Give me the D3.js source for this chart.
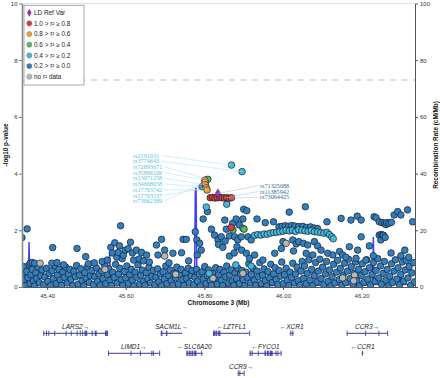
<!DOCTYPE html>
<html>
<head>
<meta charset="utf-8">
<script src="https://cdn.jsdelivr.net/npm/d3@7"></script>
<style>
body { margin: 0; background: #fff; }
svg { display: block; font-family: "Liberation Sans", Arial, sans-serif; }
</style>
</head>
<body>
<svg></svg>
<script>
// LD legend
const ldLabels = ["LD Ref Var", "1.0 > r\u00b2 \u2265 0.8", "0.8 > r\u00b2 \u2265 0.6", "0.6 > r\u00b2 \u2265 0.4",
    "0.4 > r\u00b2 \u2265 0.2", "0.2 > r\u00b2 \u2265 0.0", "no r\u00b2 data"];
const ldColors = ["#9632b8", "#d43f3a", "#eea236", "#5cb85c", "#46b8da", "#357ebd", "#b8b8b8"];

const xTicks = [45.4, 45.6, 45.8, 46.0, 46.2];
const yTicks = [0, 2, 4, 6, 8, 10];
const recTicks = [0, 20, 40, 60, 80, 100];
const sigThreshold = 7.301;

// variants: [position Mb, -log10 p]
const refVariant = [[45.8345, 3.30]];
const redPts = [[45.815, 3.15], [45.821, 3.16], [45.827, 3.14], [45.833, 3.15], [45.839, 3.16], [45.845, 3.15],
    [45.851, 3.14], [45.857, 3.15], [45.863, 3.13], [45.869, 3.15], [45.868, 2.10]];
const orangePts = [[45.801, 3.77], [45.802, 3.70], [45.803, 3.60], [45.805, 3.50], [45.807, 3.42]];
const greenPts = [[45.809, 3.80], [45.873, 2.01], [45.901, 2.04]];
const cyanPts = [[45.869, 4.30], [45.896, 4.07], [45.857, 2.92], [45.805, 2.82], [45.898, 2.07],
    [45.880, 0.78], [45.919, 0.74], [45.812, 0.48],
    [45.928, 1.82], [45.936, 1.85], [45.944, 1.83], [45.952, 1.87], [45.960, 1.86], [45.968, 1.90], [45.976, 1.92],
    [45.984, 1.93], [45.992, 1.95], [46.000, 1.97], [46.008, 2.00], [46.016, 1.98], [46.024, 2.00], [46.032, 1.96],
    [46.040, 2.02], [46.048, 2.00], [46.056, 1.98], [46.064, 1.97], [46.072, 1.99], [46.080, 1.95], [46.088, 1.94],
    [46.096, 1.92], [46.104, 1.90], [46.112, 1.93], [46.118, 1.85], [46.124, 1.77], [46.128, 1.70]];
const greyPts = [[45.382, 0.84], [45.547, 0.62], [45.699, 1.09], [45.727, 0.45], [45.822, 0.31], [45.898, 0.48],
    [46.008, 1.54], [46.152, 0.32], [46.182, 0.42], [46.180, 0.22]];
const bluePts = [
    // low band
    [45.337, 0.10], [45.338, 0.48], [45.340, 0.72], [45.343, 0.28], [45.345, 0.05], [45.348, 0.55], [45.351, 0.33],
    [45.354, 0.78], [45.356, 0.12], [45.359, 0.44], [45.362, 0.62], [45.365, 0.22], [45.368, 0.04], [45.371, 0.50],
    [45.374, 0.30], [45.377, 0.70], [45.380, 0.15], [45.384, 0.40], [45.387, 0.60], [45.391, 0.08], [45.394, 0.35],
    [45.398, 0.66], [45.402, 0.20], [45.405, 0.48], [45.409, 0.05], [45.412, 0.58], [45.416, 0.30], [45.419, 0.74],
    [45.423, 0.12], [45.426, 0.42], [45.430, 0.62], [45.433, 0.25], [45.437, 0.06], [45.440, 0.52], [45.444, 0.34],
    [45.447, 0.70], [45.451, 0.14], [45.454, 0.45], [45.458, 0.62], [45.461, 0.27], [45.465, 0.05], [45.468, 0.55],
    [45.472, 0.36], [45.475, 0.76], [45.479, 0.10], [45.482, 0.42], [45.486, 0.64], [45.489, 0.22], [45.493, 0.04],
    [45.496, 0.50], [45.500, 0.30], [45.503, 0.72], [45.507, 0.16], [45.510, 0.40], [45.514, 0.58], [45.518, 0.08],
    [45.521, 0.36], [45.525, 0.68], [45.528, 0.20], [45.532, 0.46], [45.535, 0.06], [45.539, 0.56], [45.542, 0.30],
    [45.546, 0.78], [45.549, 0.12], [45.553, 0.44], [45.557, 0.64], [45.560, 0.24], [45.564, 0.05], [45.567, 0.52],
    [45.571, 0.34], [45.574, 0.80], [45.578, 0.14], [45.582, 0.46], [45.585, 0.66], [45.589, 0.26], [45.592, 0.06],
    [45.596, 0.54], [45.600, 0.32], [45.603, 0.74], [45.607, 0.12], [45.610, 0.44], [45.614, 0.62], [45.617, 0.24],
    [45.621, 0.04], [45.624, 0.52], [45.628, 0.34], [45.631, 0.78], [45.635, 0.10], [45.638, 0.42], [45.642, 0.60],
    [45.645, 0.20], [45.649, 0.06], [45.652, 0.50], [45.656, 0.30], [45.659, 0.70], [45.663, 0.14], [45.667, 0.38],
    [45.670, 0.58], [45.674, 0.08], [45.677, 0.34], [45.681, 0.64], [45.684, 0.18], [45.688, 0.46], [45.691, 0.04],
    [45.695, 0.54], [45.698, 0.28], [45.702, 0.74], [45.705, 0.12], [45.709, 0.40], [45.713, 0.60], [45.716, 0.22],
    [45.720, 0.06], [45.723, 0.48], [45.727, 0.32], [45.730, 0.70], [45.734, 0.10], [45.737, 0.44], [45.741, 0.62],
    [45.745, 0.26], [45.748, 0.05], [45.752, 0.50], [45.755, 0.30], [45.759, 0.66], [45.762, 0.14], [45.766, 0.40],
    [45.769, 0.58], [45.773, 0.08], [45.776, 0.34], [45.780, 0.62], [45.783, 0.20], [45.787, 0.46], [45.790, 0.04],
    [45.794, 0.54], [45.797, 0.28], [45.801, 0.72], [45.804, 0.12], [45.808, 0.40], [45.811, 0.60], [45.815, 0.22],
    [45.818, 0.06], [45.822, 0.48], [45.826, 0.32], [45.829, 0.68], [45.833, 0.10], [45.836, 0.44], [45.840, 0.62],
    [45.843, 0.24], [45.847, 0.05], [45.850, 0.52], [45.854, 0.36], [45.857, 0.74], [45.861, 0.14], [45.864, 0.42],
    [45.868, 0.60], [45.871, 0.20], [45.875, 0.06], [45.878, 0.50], [45.882, 0.30], [45.885, 0.66], [45.889, 0.12],
    [45.892, 0.46], [45.896, 0.58], [45.899, 0.26], [45.903, 0.05], [45.906, 0.52], [45.910, 0.34], [45.913, 0.82],
    [45.917, 0.14], [45.920, 0.44], [45.924, 0.66], [45.927, 0.24], [45.931, 0.06], [45.934, 0.56], [45.938, 0.36],
    [45.941, 0.86], [45.945, 0.12], [45.948, 0.42], [45.952, 0.64], [45.955, 0.22], [45.959, 0.04], [45.962, 0.54],
    [45.966, 0.32], [45.969, 0.80], [45.973, 0.16], [45.976, 0.46], [45.980, 0.68], [45.983, 0.26], [45.987, 0.08],
    [45.990, 0.58], [45.994, 0.38], [45.997, 0.88], [46.001, 0.12], [46.004, 0.44], [46.008, 0.66], [46.011, 0.24],
    [46.015, 0.05], [46.018, 0.52], [46.022, 0.34], [46.025, 0.84], [46.029, 0.14], [46.032, 0.46], [46.036, 0.70],
    [46.039, 0.22], [46.043, 0.06], [46.046, 0.56], [46.049, 0.90], [46.052, 0.30], [46.055, 0.74], [46.059, 0.12],
    [46.062, 0.48], [46.066, 0.96], [46.069, 0.24], [46.073, 0.62], [46.076, 0.05], [46.080, 0.40], [46.083, 0.86],
    [46.087, 0.18], [46.090, 0.56], [46.094, 0.98], [46.097, 0.30], [46.101, 0.70], [46.104, 0.08], [46.108, 0.46],
    [46.111, 0.90], [46.115, 0.20], [46.118, 0.60], [46.122, 0.04], [46.125, 0.36], [46.129, 0.80], [46.132, 0.14],
    [46.136, 0.52], [46.139, 0.94], [46.143, 0.26], [46.146, 0.66], [46.150, 0.06], [46.153, 0.42], [46.157, 0.84],
    [46.160, 0.16], [46.164, 0.56], [46.167, 0.98], [46.171, 0.30], [46.174, 0.72], [46.178, 0.10], [46.181, 0.48],
    [46.185, 0.88], [46.188, 0.22], [46.192, 0.62], [46.195, 0.04], [46.199, 0.40], [46.202, 0.82], [46.206, 0.16],
    [46.209, 0.54], [46.213, 0.96], [46.216, 0.28], [46.220, 0.68], [46.223, 0.06], [46.227, 0.44], [46.230, 0.86],
    [46.234, 0.20], [46.237, 0.58], [46.241, 1.00], [46.244, 0.32], [46.248, 0.74], [46.251, 0.10], [46.255, 0.48],
    [46.258, 0.90], [46.262, 0.24], [46.265, 0.62], [46.269, 0.04], [46.272, 0.38], [46.276, 0.82], [46.279, 0.16],
    [46.283, 0.56], [46.286, 0.96], [46.290, 0.28], [46.293, 0.68], [46.297, 0.08], [46.300, 0.44], [46.304, 0.88],
    [46.307, 0.20], [46.311, 0.60], [46.314, 0.94], [46.318, 0.32], [46.321, 0.72], [46.325, 0.06], [46.328, 0.50],
    [46.332, 0.86], [46.335, 0.18],
    // scattered, left and middle
    [45.336, 1.74], [45.349, 2.05], [45.357, 0.84], [45.362, 0.86], [45.368, 0.84], [45.414, 1.39], [45.412, 0.84],
    [45.425, 0.86], [45.442, 0.78], [45.476, 1.36], [45.498, 1.07], [45.505, 0.82], [45.520, 0.85], [45.540, 0.90],
    [45.553, 0.95], [45.562, 1.40], [45.566, 1.20], [45.572, 1.56], [45.577, 1.05], [45.581, 1.22], [45.584, 1.45],
    [45.587, 2.16], [45.591, 1.00], [45.594, 1.12], [45.599, 1.30], [45.606, 1.35], [45.612, 1.58], [45.617, 1.20],
    [45.620, 0.95], [45.627, 1.30], [45.634, 0.99], [45.640, 1.22], [45.645, 0.92], [45.653, 1.13], [45.660, 0.88],
    [45.678, 1.48], [45.682, 1.13], [45.691, 1.68], [45.699, 1.30], [45.710, 0.85], [45.720, 1.19], [45.742, 1.21],
    [45.746, 1.68], [45.754, 1.68], [45.760, 0.92], [45.777, 1.95], [45.781, 1.66], [45.782, 1.13], [45.788, 1.54],
    [45.792, 1.30], [45.797, 2.40], [45.794, 3.54], [45.808, 2.66], [45.818, 2.04], [45.826, 1.83], [45.835, 1.66],
    [45.836, 1.50], [45.843, 1.77], [45.847, 1.40], [45.852, 2.36], [45.853, 1.62], [45.856, 2.04], [45.864, 1.80],
    [45.864, 1.09], [45.872, 2.25], [45.877, 1.77], [45.876, 1.20], [45.881, 2.40], [45.883, 1.42], [45.885, 1.66],
    [45.889, 2.19], [45.894, 1.77], [45.895, 1.30], [45.898, 2.40], [45.900, 2.74], [45.907, 1.19], [45.908, 2.69],
    [45.911, 1.77], [45.915, 1.01], [45.919, 1.66], [45.928, 1.13], [45.934, 2.40], [45.949, 0.95], [45.955, 2.27],
    [45.976, 2.30], [45.979, 1.19], [45.996, 1.36],
    // LD block at ~2.1
    [45.990, 2.12], [45.998, 2.14], [46.006, 2.16], [46.014, 2.13], [46.022, 2.17], [46.030, 2.15], [46.040, 2.13],
    [46.050, 2.14], [46.060, 2.10], [46.070, 2.12], [46.080, 2.08], [46.088, 2.06],
    // scattered, right
    [46.000, 1.60], [46.016, 2.64], [46.025, 1.66], [46.027, 1.27], [46.034, 1.52], [46.040, 1.60], [46.052, 1.54],
    [46.057, 2.83], [46.059, 1.19], [46.063, 1.48], [46.076, 1.13], [46.080, 1.60], [46.088, 1.45], [46.097, 1.30],
    [46.112, 2.30], [46.114, 1.19], [46.127, 1.13], [46.144, 1.25], [46.148, 2.42], [46.152, 1.13], [46.160, 1.05],
    [46.169, 1.42], [46.173, 2.36], [46.186, 1.01], [46.189, 2.50], [46.190, 1.30], [46.199, 2.36], [46.199, 1.77],
    [46.211, 0.95], [46.220, 1.45], [46.230, 1.10], [46.232, 2.48], [46.237, 2.44], [46.245, 2.30], [46.245, 1.83],
    [46.249, 1.66], [46.250, 1.85], [46.252, 2.27], [46.254, 1.83], [46.256, 1.82], [46.258, 2.25], [46.260, 1.75],
    [46.262, 2.20], [46.264, 2.27], [46.270, 2.25], [46.275, 1.20], [46.276, 2.28], [46.283, 2.54], [46.292, 2.66],
    [46.300, 2.54], [46.300, 1.10], [46.310, 1.30], [46.317, 2.72], [46.320, 1.05], [46.330, 2.30]
];

// recombination rate: [position Mb, cM/Mb]
const recomb = [[45.336, 1.2], [45.345, 0.8], [45.352, 1.0], [45.354, 15.9], [45.356, 1.0], [45.370, 0.6],
    [45.390, 1.4], [45.420, 0.5], [45.450, 0.9], [45.480, 0.4], [45.510, 1.2], [45.540, 0.6], [45.557, 1.0],
    [45.559, 12.5], [45.561, 0.8], [45.600, 0.5], [45.640, 1.1], [45.680, 0.4], [45.720, 0.7], [45.760, 0.5],
    [45.775, 1.0], [45.777, 34.0], [45.779, 35.0], [45.781, 1.2], [45.810, 0.4], [45.850, 0.3], [45.900, 0.6],
    [45.950, 0.3], [46.000, 0.8], [46.050, 0.4], [46.100, 0.6], [46.150, 0.9], [46.200, 0.5], [46.228, 1.0],
    [46.230, 17.6], [46.232, 1.0], [46.260, 0.8], [46.297, 1.0], [46.299, 5.0], [46.301, 1.0], [46.336, 0.8]];

// labelled variants
const leftLabels = ["rs2191031", "rs3774643", "rs72893671", "rs35896106", "rs13071258", "rs34668658",
    "rs17763742", "rs17763537", "rs73062389"];
const leftTargets = [[45.869, 4.30], [45.896, 4.07], [45.809, 3.80], [45.801, 3.77], [45.803, 3.60],
    [45.794, 3.54], [45.807, 3.42], [45.805, 3.50], [45.802, 3.70]];
const rightLabels = ["rs71325088", "rs11385942", "rs73064425"];
const rightTargets = [[45.8345, 3.30], [45.851, 3.14], [45.863, 3.13]];

// genes
const geneNames = ["LARS2", "SACM1L", "LZTFL1", "XCR1", "CCR3", "LIMD1", "SLC6A20", "FYCO1", "CCR1", "CCR9"];
const geneStrand = ["+", "+", "-", "-", "+", "+", "-", "-", "-", "+"];
const geneStart = [45.390, 45.689, 45.822, 46.017, 46.162, 45.555, 45.754, 45.915, 46.200, 45.885];
const geneEnd = [45.555, 45.744, 45.915, 46.027, 46.266, 45.686, 45.796, 45.996, 46.205, 45.902];
const geneRow = [0, 0, 0, 0, 0, 1, 1, 1, 1, 2];
const geneExons = [
    [[45.390, 45.391], [45.397, 45.398], [45.403, 45.404], [45.418, 45.419], [45.447, 45.448], [45.460, 45.461],
     [45.475, 45.476], [45.483, 45.485], [45.489, 45.491], [45.495, 45.502], [45.513, 45.516], [45.521, 45.526],
     [45.547, 45.555]],
    [[45.689, 45.690], [45.691, 45.692], [45.702, 45.706]],
    [[45.822, 45.827], [45.828, 45.833], [45.835, 45.841], [45.914, 45.915]],
    [[46.019, 46.020], [46.024, 46.026]],
    [[46.162, 46.163], [46.209, 46.210], [46.243, 46.244], [46.265, 46.266]],
    [[45.555, 45.556], [45.612, 45.613], [45.636, 45.637], [45.665, 45.667], [45.669, 45.671], [45.685, 45.686]],
    [[45.754, 45.758], [45.760, 45.765], [45.767, 45.772], [45.774, 45.780], [45.792, 45.793]],
    [[45.915, 45.918], [45.920, 45.923], [45.936, 45.937], [45.953, 45.957], [45.959, 45.964], [45.966, 45.974],
     [45.981, 45.983], [45.986, 45.987], [45.994, 45.996]],
    [[46.201, 46.2035]],
    [[45.885, 45.887], [45.889, 45.890], [45.900, 45.902]]
];

const svg = d3.select("svg").attr("width", 440).attr("height", 378);
const plotL = 22, plotR = 415, plotT = 3.5, plotB = 287;

const x = d3.scaleLinear().domain([45.336, 46.336]).range([plotL, plotR]);
const y = d3.scaleLinear().domain([0, 10]).range([plotB, plotT]);
const yRec = d3.scaleLinear().domain([0, 100]).range([plotB, plotT]);

svg.append("defs").append("clipPath").attr("id", "plotclip")
    .append("rect").attr("x", plotL).attr("y", plotT).attr("width", plotR - plotL).attr("height", plotB - plotT);

// top border and significance line
svg.append("line").attr("x1", plotL).attr("x2", plotR).attr("y1", plotT).attr("y2", plotT)
    .attr("stroke", "#e2e2e2").attr("stroke-width", 1);
svg.append("line").attr("x1", plotL).attr("x2", plotR)
    .attr("y1", y(sigThreshold)).attr("y2", y(sigThreshold))
    .attr("stroke", "#d3d3d3").attr("stroke-width", 1.5).attr("stroke-dasharray", "6,5.5");

const plot = svg.append("g").attr("clip-path", "url(#plotclip)");

// recombination line
plot.append("path")
    .datum(recomb)
    .attr("d", d3.line().x(d => x(d[0])).y(d => yRec(d[1])))
    .attr("fill", "none")
    .attr("stroke", "#0000ff")
    .attr("stroke-opacity", 0.75)
    .attr("stroke-width", 1.5);

function drawPoints(pts, color) {
    plot.append("g").selectAll("circle")
        .data(pts)
        .join("circle")
        .attr("cx", d => x(d[0]))
        .attr("cy", d => y(d[1]))
        .attr("r", 3.3)
        .attr("fill", color)
        .attr("stroke", "#14202e")
        .attr("stroke-width", 0.7);
}
drawPoints(bluePts, ldColors[5]);
drawPoints(greyPts, ldColors[6]);
drawPoints(cyanPts, ldColors[4]);
drawPoints(greenPts, ldColors[3]);
drawPoints(orangePts, ldColors[2]);
drawPoints(redPts, ldColors[1]);

plot.selectAll(".ref")
    .data(refVariant)
    .join("path")
    .attr("d", d3.symbol(d3.symbolDiamond, 24))
    .attr("transform", d => `translate(${x(d[0])},${y(d[1])})`)
    .attr("fill", ldColors[0])
    .attr("stroke", "#4a1a5c")
    .attr("stroke-width", 0.5);

// variant labels
const lab = svg.append("g").attr("font-family", "'Liberation Serif', 'Times New Roman', serif").attr("font-size", 6.2);
leftLabels.forEach((name, i) => {
    const ly = 155.5 + i * 5.7;
    const t = lab.append("text").attr("x", 133).attr("y", ly).attr("dy", "0.35em")
        .attr("fill", "#5ec2e4").text(name);
    const w = t.node().getComputedTextLength();
    lab.append("line")
        .attr("x1", 133 + w + 2).attr("y1", ly)
        .attr("x2", x(leftTargets[i][0])).attr("y2", y(leftTargets[i][1]))
        .attr("stroke", "#aadff0").attr("stroke-width", 0.5);
});
rightLabels.forEach((name, i) => {
    const ly = 185.7 + i * 5.8;
    lab.append("text").attr("x", 260).attr("y", ly).attr("dy", "0.35em")
        .attr("fill", "#2d6ca8").text(name);
    lab.append("line")
        .attr("x1", 258).attr("y1", ly)
        .attr("x2", x(rightTargets[i][0])).attr("y2", y(rightTargets[i][1]))
        .attr("stroke", "#9cc0e0").attr("stroke-width", 0.5);
});

// axes
const fmt = d3.format(".2f");
const xAxis = svg.append("g").attr("transform", `translate(0,${plotB})`)
    .call(d3.axisBottom(x).tickValues(xTicks).tickFormat(fmt).tickSize(3).tickSizeOuter(0));
const yAxis = svg.append("g").attr("transform", `translate(${plotL},0)`)
    .call(d3.axisLeft(y).tickValues(yTicks).tickSize(3).tickSizeOuter(0));
const rAxis = svg.append("g").attr("transform", `translate(${plotR},0)`)
    .call(d3.axisRight(yRec).tickValues(recTicks).tickSize(3).tickSizeOuter(0));

[xAxis, yAxis, rAxis].forEach(a => {
    a.selectAll("text").attr("font-size", 6).attr("fill", "#333").attr("font-family", "'Liberation Sans', Arial, sans-serif");
    a.selectAll(".tick line").attr("stroke", "#555");
    a.select(".domain").attr("stroke", "#555");
});
yAxis.select(".domain").attr("stroke", "#8a8a8a").attr("stroke-width", 1.6);
yAxis.selectAll(".tick line").attr("stroke", "#777");
xAxis.selectAll("text").attr("dy", "0.9em");
yAxis.selectAll("text").attr("x", -4.5);
rAxis.selectAll("text").attr("x", 5);

svg.append("text")
    .attr("transform", "translate(7.5,145) rotate(-90)")
    .attr("text-anchor", "middle").attr("font-size", 6.4).attr("font-weight", "bold").attr("fill", "#111")
    .text("-log10 p-value");
svg.append("text")
    .attr("transform", "translate(438,145) rotate(-90)")
    .attr("text-anchor", "middle").attr("font-size", 6.4).attr("font-weight", "bold").attr("fill", "#111")
    .text("Recombination Rate (cM/Mb)");
svg.append("text")
    .attr("x", (plotL + plotR) / 2).attr("y", 304.5)
    .attr("text-anchor", "middle").attr("font-size", 6.4).attr("font-weight", "bold").attr("fill", "#111")
    .text("Chromosome 3 (Mb)");

// legend
const legend = svg.append("g");
legend.append("rect").attr("x", 24).attr("y", 5.3).attr("width", 60).attr("height", 79.7)
    .attr("fill", "#fff").attr("stroke", "#a8a8a8").attr("stroke-width", 1);
ldLabels.forEach((lbl, i) => {
    const ly = 12.7 + i * 10.67;
    if (i === 0) {
        legend.append("path").attr("d", d3.symbol(d3.symbolDiamond, 18))
            .attr("transform", `translate(29.3,${ly})`).attr("fill", ldColors[i]);
    } else {
        legend.append("circle").attr("cx", 29.3).attr("cy", ly).attr("r", 2.6)
            .attr("fill", ldColors[i]).attr("stroke", "#555").attr("stroke-width", 0.3);
    }
    legend.append("text").attr("x", 34).attr("y", ly).attr("dy", "0.35em")
        .attr("font-size", 6.4).attr("fill", "#222").text(lbl);
});

// gene track
const geneColor = "#3a3aa4";
const rowY = [333.3, 353.3, 373.3];
const genes = svg.append("g");
geneNames.forEach((name, i) => {
    const gy = rowY[geneRow[i]];
    genes.append("line")
        .attr("x1", x(geneStart[i])).attr("x2", x(geneEnd[i]))
        .attr("y1", gy).attr("y2", gy)
        .attr("stroke", geneColor).attr("stroke-width", 1);
    genes.selectAll(null)
        .data(geneExons[i])
        .join("rect")
        .attr("x", d => x(d[0]))
        .attr("y", gy - 2.7)
        .attr("width", d => Math.max(1, x(d[1]) - x(d[0])))
        .attr("height", 5.4)
        .attr("fill", geneColor)
        .attr("fill-opacity", 0.85);
    genes.append("text")
        .attr("x", (x(geneStart[i]) + x(geneEnd[i])) / 2)
        .attr("y", gy - 4.5)
        .attr("text-anchor", "middle")
        .attr("font-size", 6.5).attr("font-style", "italic").attr("fill", "#222")
        .text(geneStrand[i] === "+" ? name + "\u2192" : "\u2190" + name);
});
</script>
</body>
</html>
